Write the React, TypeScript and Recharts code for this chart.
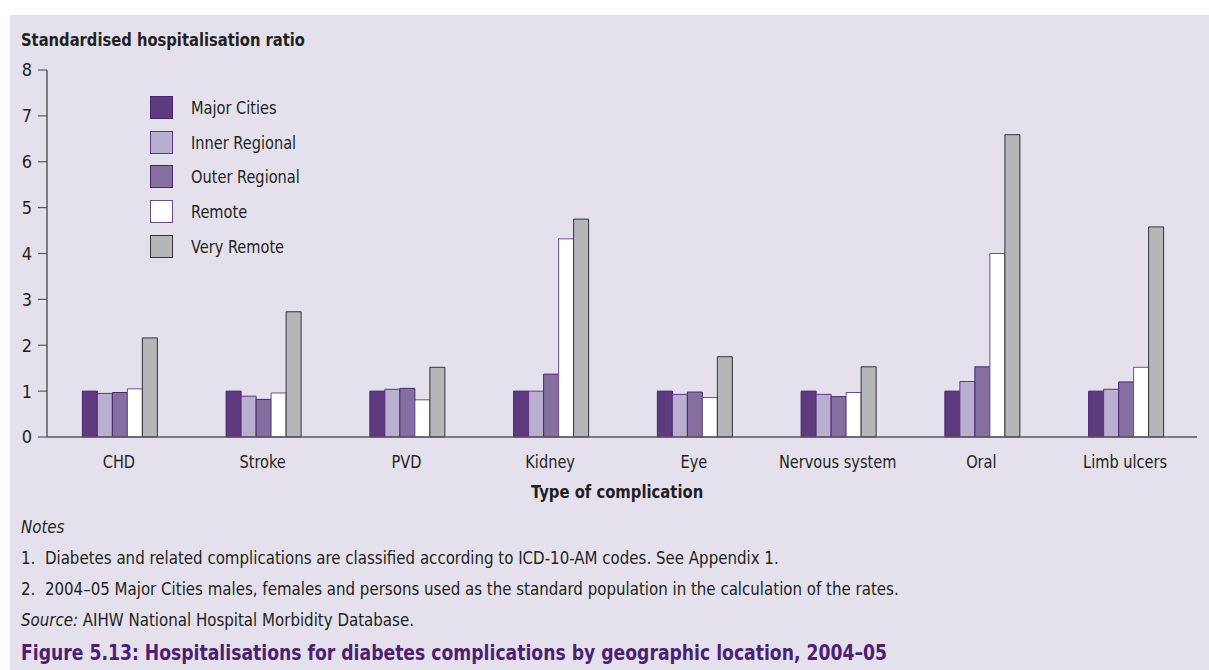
import { BarChart, Bar, XAxis, YAxis, Legend } from 'recharts';

const categories = ['CHD', 'Stroke', 'PVD', 'Kidney', 'Eye', 'Nervous system', 'Oral', 'Limb ulcers'];
const majorCities = [1.0, 1.0, 1.0, 1.0, 1.0, 1.0, 1.0, 1.0];
const innerRegional = [0.95, 0.89, 1.04, 1.0, 0.93, 0.93, 1.21, 1.04];
const outerRegional = [0.97, 0.82, 1.06, 1.37, 0.98, 0.88, 1.53, 1.2];
const remote = [1.05, 0.96, 0.81, 4.32, 0.86, 0.97, 4.0, 1.52];
const veryRemote = [2.16, 2.73, 1.52, 4.75, 1.75, 1.53, 6.59, 4.58];
const yTicks = [0, 1, 2, 3, 4, 5, 6, 7, 8];

const notes = [
  '1.  Diabetes and related complications are classified according to ICD-10-AM codes. See Appendix 1.',
  '2.  2004\u201305 Major Cities males, females and persons used as the standard population in the calculation of the rates.',
];

const FONT = "'DejaVu Sans Condensed', 'DejaVu Sans', sans-serif";
const BG = '#e4e1ed';
const TEXT = '#231f20';
const AXIS = '#58595b';

const series = [
  { key: 'major', name: 'Major Cities', fill: '#5d3b7e', stroke: '#4a2470' },
  { key: 'inner', name: 'Inner Regional', fill: '#b9afd0', stroke: '#5a3585' },
  { key: 'outer', name: 'Outer Regional', fill: '#846fa0', stroke: '#4a2470' },
  { key: 'remote', name: 'Remote', fill: '#ffffff', stroke: '#6b4c94' },
  { key: 'veryRemote', name: 'Very Remote', fill: '#b5b6b8', stroke: '#333333' },
];

const data = categories.map((name, i) => ({
  name,
  major: majorCities[i],
  inner: innerRegional[i],
  outer: outerRegional[i],
  remote: remote[i],
  veryRemote: veryRemote[i],
}));

const txt = { fontFamily: FONT, fontStretch: 'condensed', color: TEXT } as const;

// squeeze a text horizontally, the original uses a condensed face
const squeeze = (k: number, origin = 'left') => ({
  transform: `scaleX(${k})`,
  transformOrigin: origin,
});

function LegendBox() {
  return (
    <div style={{ ...txt, fontSize: 18 }}>
      {series.map((s) => (
        <div key={s.key} style={{ display: 'flex', alignItems: 'center', height: 34.7 }}>
          <div
            style={{
              width: 21,
              height: 21,
              background: s.fill,
              border: `1px solid ${s.stroke}`,
              marginRight: 18,
              flex: 'none',
            }}
          />
          <span style={{ display: 'inline-block', whiteSpace: 'nowrap', ...squeeze(0.9) }}>{s.name}</span>
        </div>
      ))}
    </div>
  );
}

const CategoryTick = ({ x, y, payload }: any) => (
  <g transform={`translate(${x},${y}) scale(0.9,1)`}>
    <text
      x={0}
      y={0}
      dy="0.71em"
      textAnchor="middle"
      fill={TEXT}
      fontSize={18}
      fontFamily={FONT}
      style={{ fontStretch: 'condensed' }}
    >
      {payload.value}
    </text>
  </g>
);

export default function App() {
  return (
    <div style={{ position: 'absolute', left: 0, top: 0, width: 1209, height: 670, background: '#fff', overflow: 'hidden' }}>
      <div style={{ position: 'absolute', left: 10, top: 15, width: 1199, height: 655, background: BG }} />
      <div
        style={{
          ...txt,
          ...squeeze(0.91),
          position: 'absolute',
          left: 21,
          top: 29,
          fontWeight: 'bold',
          fontSize: 18,
          whiteSpace: 'nowrap',
        }}
      >
        Standardised hospitalisation ratio
      </div>
      <div style={{ position: 'absolute', left: 0, top: 0 }}>
        <BarChart
          width={1209}
          height={480}
          data={data}
          margin={{ top: 70, right: 12, bottom: 13, left: 10 }}
          barCategoryGap="24.6%"
          barGap={0}
        >
          <XAxis
            dataKey="name"
            height={30}
            tickLine={false}
            tickSize={0}
            tickMargin={18}
            axisLine={{ stroke: AXIS, strokeWidth: 1.5 }}
            tick={<CategoryTick />}
            interval={0}
          />
          <YAxis
            width={37}
            domain={[0, 8]}
            ticks={yTicks}
            interval={0}
            tickSize={9}
            tickMargin={6}
            tickLine={{ stroke: AXIS, strokeWidth: 1.2 }}
            axisLine={{ stroke: AXIS, strokeWidth: 1.5 }}
            tick={{ fill: TEXT, fontSize: 18, fontFamily: FONT }}
          />
          <Legend
            layout="vertical"
            verticalAlign="middle"
            align="center"
            wrapperStyle={{ left: 150, top: 90, width: 200 }}
            content={() => <LegendBox />}
          />
          {series.map((s) => (
            <Bar
              key={s.key}
              dataKey={s.key}
              name={s.name}
              fill={s.fill}
              stroke={s.stroke}
              strokeWidth={1}
              isAnimationActive={false}
            />
          ))}
        </BarChart>
      </div>
      <div
        style={{
          ...txt,
          position: 'absolute',
          left: 0,
          width: 1234,
          top: 481,
          textAlign: 'center',
          fontWeight: 'bold',
          fontSize: 18,
        }}
      >
        <span style={{ display: 'inline-block', ...squeeze(0.915, 'center') }}>Type of complication</span>
      </div>
      <div
        style={{
          ...txt,
          ...squeeze(0.955),
          position: 'absolute',
          left: 21,
          top: 512,
          fontSize: 17.5,
          lineHeight: '31px',
          whiteSpace: 'nowrap',
        }}
      >
        <div style={{ fontStyle: 'italic' }}>Notes</div>
        {notes.map((n) => (
          <div key={n} style={{ whiteSpace: 'pre' }}>{n}</div>
        ))}
        <div>
          <span style={{ fontStyle: 'italic' }}>Source:</span> AIHW National Hospital Morbidity Database.
        </div>
      </div>
      <div
        style={{
          ...txt,
          ...squeeze(0.87),
          position: 'absolute',
          left: 21,
          top: 640,
          fontWeight: 'bold',
          fontSize: 22,
          color: '#4e1e73',
          whiteSpace: 'nowrap',
        }}
      >
        Figure 5.13: Hospitalisations for diabetes complications by geographic location, 2004–05
      </div>
    </div>
  );
}
